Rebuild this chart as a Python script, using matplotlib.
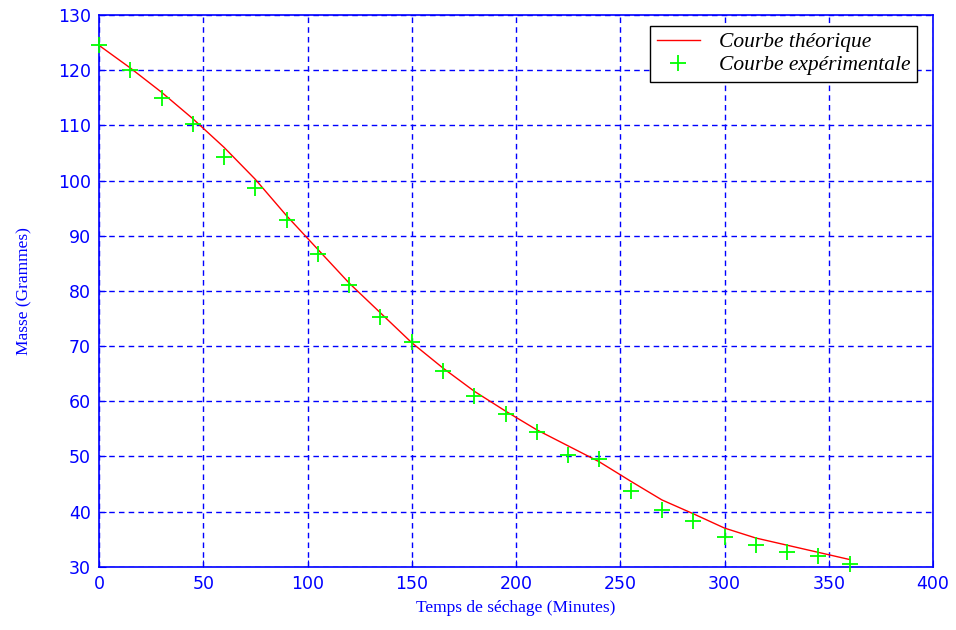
import matplotlib
matplotlib.use("Agg")
import matplotlib.pyplot as plt

temps = [0, 15, 30, 45, 60, 75, 90, 105, 120, 135, 150, 165, 180, 195, 210,
         225, 240, 255, 270, 285, 300, 315, 330, 345, 360]
masse_exp = [124.5, 120.0, 115.0, 110.3, 104.3, 98.7, 92.8, 86.6, 81.0, 75.2, 70.8,
             65.5, 61.0, 57.7, 54.4, 50.3, 49.5, 43.8, 40.2, 38.2, 35.4, 33.9,
             32.7, 31.9, 30.4]
masse_theo = [124.5, 120.4, 116.0, 111.2, 106.0, 100.2, 93.6, 87.5, 81.4, 76.0, 70.6,
              66.0, 61.8, 58.2, 54.8, 51.9, 49.0, 45.5, 42.1, 39.6, 37.0, 35.2,
              33.9, 32.6, 31.3]

xticks = [0, 50, 100, 150, 200, 250, 300, 350, 400]
yticks = [30, 40, 50, 60, 70, 80, 90, 100, 110, 120, 130]

blue = "#0000ff"
fig = plt.figure(figsize=(9.56, 6.3), dpi=100)
ax = fig.add_axes([99/956, 1-566.7/630, (933-99)/956, (566.7-15)/630])

ax.plot(temps, masse_theo, color="#ff0000", lw=1.0, label="Courbe théorique")
ax.plot(temps, masse_exp, ls="none", marker="+", ms=12, mew=1.3, color="#00ff00",
        label="Courbe expérimentale", clip_on=False, zorder=5)

ax.set_xlim(0, 400)
ax.set_ylim(30, 130)
ax.set_xticks(xticks)
ax.set_yticks(yticks)
ax.grid(True, color=blue, ls=(0, (4, 3)), lw=1.0)
for s in ax.spines.values():
    s.set_color(blue)
    s.set_linewidth(1.2)
ax.tick_params(direction="in", colors=blue, labelcolor=blue, length=5,
               labelsize=12.5, pad=6)
for lab in ax.get_xticklabels() + ax.get_yticklabels():
    lab.set_family("DejaVu Sans")

ax.set_xlabel("Temps de séchage (Minutes)", color=blue, family="Liberation Serif",
              fontsize=12.5, labelpad=5)
ax.set_ylabel("Masse (Grammes)", color=blue, family="Liberation Serif",
              fontsize=12.5, labelpad=18)

leg = ax.legend(loc="upper right", bbox_to_anchor=(0.986, 0.988), fancybox=False,
                framealpha=1, edgecolor="black",
                prop={"family": "Liberation Serif", "style": "italic", "size": 15.5},
                borderpad=0.3, handlelength=2.0, handletextpad=0.9,
                labelspacing=0.12, borderaxespad=0.2)
leg.get_frame().set_linewidth(1.0)

fig.savefig("out.png", dpi=100)
